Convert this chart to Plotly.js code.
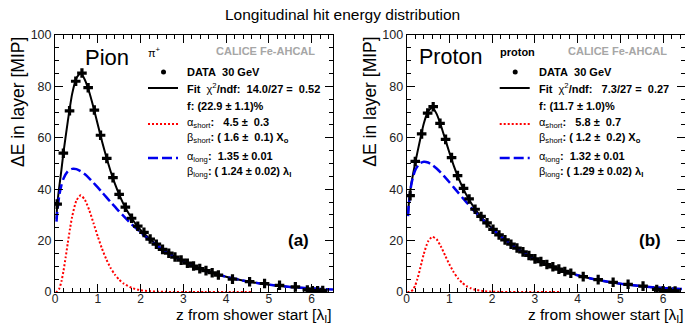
<!DOCTYPE html>
<html><head><meta charset="utf-8">
<script src="https://cdn.plot.ly/plotly-3.0.1.min.js"></script>
<style>body{margin:0;padding:0;background:#fff}#plot{width:685px;height:327px}</style>
</head><body><div id="plot"></div>
<script>
// ---------- Pion (a) ----------
const pionDataX = [0.05,0.195,0.34,0.485,0.63,0.775,0.92,1.065,1.21,1.355,1.5,1.645,1.79,1.935,2.08,2.225,2.37,2.515,2.66,2.805,2.95,3.095,3.24,3.385,3.53,3.675,3.82,4.15,4.55,4.9,5.25,5.62,5.9,6.02,6.14,6.26];
const pionDataY = [34.2,54,70.5,82,85.2,79.5,70.8,61,52,44.5,38,33,28.7,25.6,23.2,20.6,18.6,16.6,15.1,13.6,12.4,11.2,10.1,9.1,8.3,7.5,6.6,5.0,4.0,3.3,2.6,2.0,0.8,0.5,0.5,0.6];
const pionFitX = [0.035,0.05,0.1,0.15,0.2,0.3,0.4,0.5,0.6,0.7,0.8,0.9,1.0,1.1,1.2,1.3,1.4,1.5,1.6,1.7,1.8,1.9,2.0,2.2,2.4,2.6,2.8,3.0,3.3,3.6,4.0,4.5,5.0,5.5,6.0,6.3];
const pionFitY = [28.5,33.5,41,47.5,54.5,66.5,77,83.2,85.2,82.5,77.8,71.8,65.2,58.6,52.5,47,42.2,38,34.3,31.2,28.5,26.2,24.2,20.9,18.1,15.8,13.7,11.95,9.7,7.85,5.9,4.1,2.85,1.96,1.35,1.1];
const pionShortX = [0.02,0.05,0.1,0.15,0.2,0.25,0.3,0.35,0.4,0.5,0.6,0.7,0.8,0.9,1.0,1.1,1.2,1.3,1.4,1.5,1.6,1.8,2.0,2.2,2.4,2.6,2.8,3.0,3.5,4.0,4.6];
const pionShortY = [0.01,0.16,1.32,4.07,8.32,13.56,19.16,24.54,29.23,35.57,37.6,35.85,31.88,26.82,21.61,16.81,12.7,9.37,6.77,4.8,3.35,1.57,0.71,0.31,0.13,0.05,0.02,0.01,0,0,0];
const pionLongX = [0.035,0.05,0.1,0.15,0.2,0.3,0.4,0.5,0.6,0.7,0.8,0.9,1.0,1.1,1.2,1.3,1.4,1.5,1.6,1.8,2.0,2.2,2.4,2.6,2.8,3.0,3.3,3.6,4.0,4.5,5.0,5.5,6.0,6.5];
const pionLongY = [27.4,30.7,37.6,41.6,44.2,47.0,47.9,47.8,47.0,45.8,44.25,42.5,40.7,38.8,36.9,35.0,33.2,31.35,29.6,26.2,23.2,20.4,17.9,15.65,13.7,11.9,9.7,7.8,5.9,4.1,2.85,1.96,1.35,0.93];

// ---------- Proton (b) ----------
const protDataX = [0.08,0.2,0.35,0.49,0.62,0.78,0.91,1.05,1.19,1.33,1.46,1.6,1.74,1.88,2.02,2.16,2.3,2.44,2.58,2.72,2.86,3.0,3.14,3.28,3.42,3.56,3.7,3.84,4.13,4.48,4.83,5.18,5.53,5.85,6.0,6.15,6.28];
const protDataY = [37.5,50.8,61.5,69.6,72.1,65.6,59.4,52.3,45.3,40.3,36.2,32.2,29.4,26.9,24.4,22.2,20.3,18.6,17.1,15.6,14.2,12.9,11.8,10.7,9.8,8.9,8.0,7.3,6.0,4.8,3.8,3.0,2.3,1.0,0.5,0.4,0.4];
const protFitX = [0.03,0.05,0.1,0.15,0.2,0.3,0.4,0.5,0.6,0.7,0.8,0.9,1.0,1.1,1.2,1.3,1.4,1.5,1.6,1.8,2.0,2.2,2.4,2.6,2.8,3.0,3.3,3.6,4.0,4.5,5.0,5.5,6.0,6.3];
const protFitY = [29.6,34.3,41.3,46,50.3,58.2,65.6,70.3,71.8,69.3,64.8,59.5,54.2,49.2,44.8,41.0,37.7,34.8,32.3,28.1,24.7,21.7,19.1,16.8,14.7,12.9,10.5,8.6,6.5,4.6,3.2,2.25,1.57,1.3];
const protShortX = [0.02,0.05,0.1,0.15,0.2,0.25,0.3,0.35,0.4,0.5,0.6,0.7,0.8,0.9,1.0,1.1,1.2,1.3,1.4,1.5,1.6,1.8,2.0,2.2,2.4,2.6,3.0,3.6];
const protShortY = [0,0.01,0.2,0.96,2.57,5.05,8.17,11.56,14.81,19.67,21.5,20.51,17.72,14.19,10.72,7.71,5.33,3.56,2.31,1.47,0.91,0.33,0.11,0.04,0.01,0,0,0];
const protLongX = [0.03,0.05,0.1,0.15,0.2,0.3,0.4,0.5,0.6,0.7,0.8,0.9,1.0,1.1,1.2,1.3,1.4,1.5,1.6,1.8,2.0,2.2,2.4,2.6,2.8,3.0,3.3,3.6,4.0,4.5,5.0,5.5,6.0,6.5];
const protLongY = [29.5,34.2,41.05,44.96,47.42,49.96,50.69,50.38,49.42,48.05,46.4,44.6,42.69,40.73,38.75,36.79,34.86,32.98,31.16,27.71,24.54,21.67,19.08,16.77,14.7,12.87,10.52,8.57,6.5,4.58,3.22,2.25,1.57,1.09];

const xTickVals = [0,1,2,3,4,5,6];
const yTickVals = [0,20,40,60,80,100];

const W = 685, H = 327;
const FONT = 'Liberation Sans, Arial, Helvetica, sans-serif';
const px = x => x / W;
const py = y => 1 - y / H;

function lineTrace(x, y, xa, ya, color, dash, width) {
  return {x, y, xaxis: xa, yaxis: ya, type: 'scatter', mode: 'lines',
    line: {color, dash, width, shape: 'spline', smoothing: 0.6}, hoverinfo: 'skip', showlegend: false};
}
function dataTrace(x, y, xa, ya) {
  return {x, y, xaxis: xa, yaxis: ya, type: 'scatter', mode: 'markers',
    marker: {symbol: 'cross', size: 8, color: '#000'}, showlegend: false};
}

const traces = [
  lineTrace(pionFitX, pionFitY, 'x', 'y', '#000', 'solid', 2),
  lineTrace(pionLongX, pionLongY, 'x', 'y', '#0000ee', '10px,4px', 2.5),
  lineTrace(pionShortX, pionShortY, 'x', 'y', '#ff0000', '2px,2px', 2),
  dataTrace(pionDataX, pionDataY, 'x', 'y'),
  lineTrace(protFitX, protFitY, 'x2', 'y2', '#000', 'solid', 2),
  lineTrace(protLongX, protLongY, 'x2', 'y2', '#0000ee', '10px,4px', 2.5),
  lineTrace(protShortX, protShortY, 'x2', 'y2', '#ff0000', '2px,2px', 2),
  dataTrace(protDataX, protDataY, 'x2', 'y2'),
];

function xAxis(d0, d1, anchor) {
  return {domain: [px(d0), px(d1)], anchor, range: [0, 6.5], tickvals: xTickVals,
    ticks: 'inside', ticklen: 8, tickcolor: '#000', mirror: 'allticks', showline: true,
    linecolor: '#000', linewidth: 1, showgrid: false, zeroline: false, ticklabelstandoff: -4,
    minor: {dtick: 0.2, ticks: 'inside', ticklen: 4, tickcolor: '#000', showgrid: false},
    tickfont: {family: FONT, size: 12, color: '#222'}, fixedrange: true};
}
function yAxis(anchor) {
  return {domain: [1 - 292 / H, 1 - 35 / H], anchor, range: [0, 100], tickvals: yTickVals,
    ticks: 'inside', ticklen: 8, tickcolor: '#000', mirror: 'allticks', showline: true,
    linecolor: '#000', linewidth: 1, showgrid: false, zeroline: false,
    minor: {dtick: 5, ticks: 'inside', ticklen: 4, tickcolor: '#000', showgrid: false},
    tickfont: {family: FONT, size: 12.5, color: '#222'}, fixedrange: true};
}

const annotations = [];
const shapes = [];
function txt(x, y, text, size, opts) {
  annotations.push(Object.assign({xref: 'paper', yref: 'paper', x: px(x), y: py(y), text,
    showarrow: false, xanchor: 'left', yanchor: 'middle',
    font: {family: FONT, size, color: '#000'}}, opts || {}));
}
const sp = '\u00a0';
annotations.push({xref: 'paper', yref: 'paper', x: 0.5, y: py(14), text: 'Longitudinal hit energy distribution',
  showarrow: false, xanchor: 'center', yanchor: 'middle', font: {family: FONT, size: 15.5, color: '#000'}});

function panel(off, nameX, name, nameSize, tag, stats, lab) {
  txt(nameX, 57, name, nameSize);
  txt(146 + off, 52, tag, 11);
  txt(317 + off, 51, '<b>CALICE Fe-AHCAL</b>', 11, {xanchor: 'right', font: {family: FONT, size: 11, color: '#a6a6a6'}});
  // legend markers
  shapes.push({type: 'circle', xref: 'paper', yref: 'paper', x0: px(161 + off), x1: px(166 + off), y0: py(69.5), y1: py(74.5), fillcolor: '#000', line: {width: 0}});
  shapes.push({type: 'line', xref: 'paper', yref: 'paper', x0: px(148 + off), x1: px(178 + off), y0: py(88), y1: py(88), line: {color: '#000', width: 2}});
  shapes.push({type: 'line', xref: 'paper', yref: 'paper', x0: px(148 + off), x1: px(178 + off), y0: py(124), y1: py(124), line: {color: '#ff0000', width: 2, dash: '2px,2px'}});
  shapes.push({type: 'line', xref: 'paper', yref: 'paper', x0: px(148 + off), x1: px(178 + off), y0: py(158), y1: py(158), line: {color: '#0000ee', width: 2.5, dash: '10px,4px'}});
  const lx = 185 + off;
  txt(lx, 72, '<b>DATA' + sp + sp + '30 GeV</b>', 11);
  txt(lx, 88, '<b>Fit' + sp + sp + '</b>χ<sup>2</sup><b>/ndf:' + sp + sp + stats[0] + '</b>', 11);
  txt(lx, 106, '<b>f: (' + stats[1] + ')%</b>', 11);
  txt(lx, 123, 'α<sub>short</sub><b>:' + sp + sp + sp + stats[2] + '</b>', 11);
  txt(lx, 138, 'β<sub>short</sub><b>: ( ' + stats[3] + ') X<sub>o</sub></b>', 11);
  txt(lx, 157, 'α<sub>long</sub><b>:' + sp + sp + stats[4] + '</b>', 11);
  txt(lx, 172, 'β<sub>long</sub><b>: ( ' + stats[5] + ') λ<sub>I</sub></b>', 11);
  txt(298 + off, 240, '<b>' + lab + '</b>', 17, {xanchor: 'center'});
  // axis titles
  txt(333 + off, 327, 'z from shower start [λ<sub>I</sub>]', 15.5, {xanchor: 'right', yanchor: 'bottom'});
  annotations.push({xref: 'paper', yref: 'paper', x: px(18 + off), y: py(35), text: 'ΔE in layer [MIP]',
    textangle: -90, showarrow: false, xanchor: 'center', yanchor: 'top',
    font: {family: FONT, size: 17.5, color: '#000'}});
}
panel(0, 83, 'Pion', 22, 'π<sup>+</sup>', ['14.0/27 =' + sp + sp + '0.52', '22.9 ± 1.1', '4.5 ±' + sp + sp + '0.3', '1.6 ±' + sp + sp + '0.1', '1.35 ± 0.01', '1.24 ± 0.02'], '(a)');
panel(351.7, 417, 'Proton', 21.5, '<b>proton</b>', [sp + '7.3/27 =' + sp + sp + '0.27', '11.7 ± 1.0', '5.8 ±' + sp + sp + '0.7', '1.2 ±' + sp + sp + '0.2', '1.32 ± 0.01', '1.29 ± 0.02'], '(b)');

const layout = {
  width: W, height: H, margin: {l: 0, r: 0, t: 0, b: 0},
  paper_bgcolor: '#fff', plot_bgcolor: '#fff', showlegend: false,
  xaxis: xAxis(55, 333, 'y'), yaxis: yAxis('x'),
  xaxis2: xAxis(406.7, 684.5, 'y2'), yaxis2: yAxis('x2'),
  annotations, shapes,
};
Plotly.newPlot('plot', traces, layout, {staticPlot: true, displayModeBar: false});
</script></body></html>
